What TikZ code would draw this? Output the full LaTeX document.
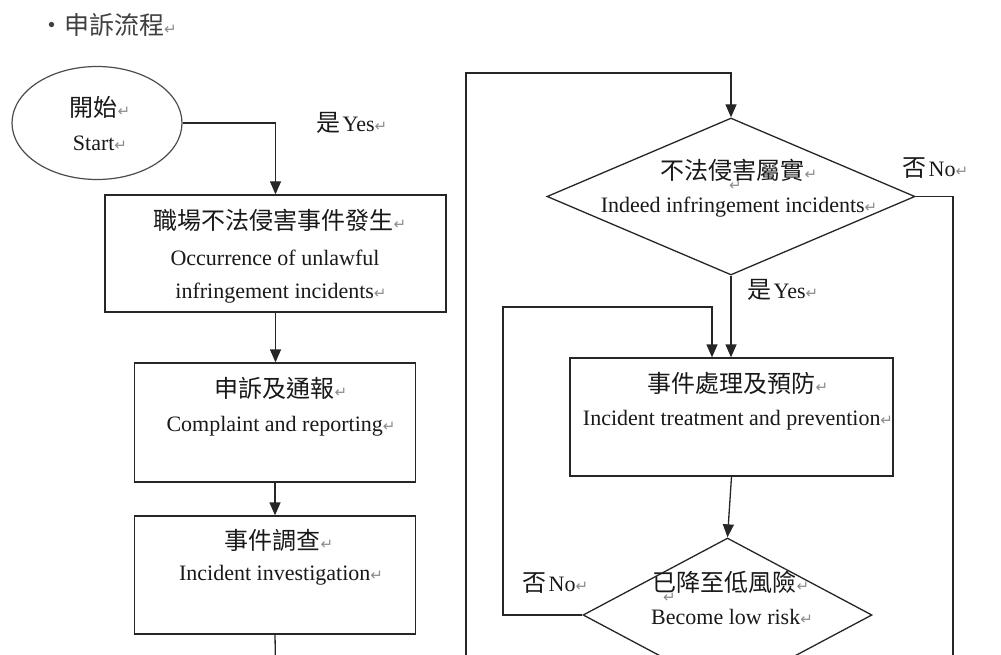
\documentclass[tikz,border=0pt]{standalone}
\usepackage{fontspec}
\setmainfont{Liberation Serif}
\newfontfamily\cjk{Noto Sans CJK TC}
\newfontfamily\symf{DejaVu Sans}
\usetikzlibrary{arrows.meta,shapes.geometric,calc}
\newcommand\pmk{{\symf\fontsize{15}{15}\selectfont\color{black!45}↵}}
\newcommand\zhf{\cjk\fontsize{24}{24}\selectfont}
\newcommand\enf{\fontsize{22}{22}\selectfont}
\tikzset{
  boxn/.style={draw=black!85, rectangle, inner sep=0pt, line width=1.3pt},
  dian/.style={draw=black!85, diamond, inner sep=0pt, line width=1.3pt},
  elln/.style={draw=black!70, ellipse, inner sep=0pt, line width=1.2pt},
  txt/.style={inner sep=0pt, text=black!90},
  lone/.style={inner sep=0pt, text height=5pt, text depth=0pt, text width=8pt},
  arr/.style={draw=black!85, line width=1.3pt, -{Triangle[length=13pt,width=11pt]}},
  lin/.style={draw=black!85, line width=1.3pt}
}
\begin{document}
\begin{tikzpicture}[x=1pt,y=-1pt]
\useasboundingbox (0,0) rectangle (1001,655);
\clip (0,0) rectangle (1001,655);
\fill[white] (0,0) rectangle (1001,655);
% title
\node[txt, anchor=west, text=black!75] (title) at (39,25) {\cjk\fontsize{25}{25}\selectfont ・申訴流程\pmk};
% shapes
\node[elln, minimum width=170pt, minimum height=113pt] (st) at (97,123) {};
\node[boxn, minimum width=341pt, minimum height=117pt] (b1) at (275.5,253.5) {};
\node[boxn, minimum width=281pt, minimum height=119pt] (b2) at (275,422.5) {};
\node[boxn, minimum width=281pt, minimum height=118pt] (b3) at (275,575) {};
\node[dian, minimum width=368pt, minimum height=157pt] (d1) at (731,196.5) {};
\node[boxn, minimum width=323pt, minimum height=118pt] (b4) at (731.5,417) {};
\node[dian, minimum width=289pt, minimum height=154pt] (d2) at (727.5,615) {};
% texts
\node[txt] (st1) at (100,107) {\zhf 開始\pmk};
\node[txt] (st2) at (100,143) {\enf Start\pmk};
\node[txt, anchor=west] (yes1) at (316,123) {{\zhf 是} \enf Yes\pmk};
\node[txt] (b1a) at (280,220) {\zhf 職場不法侵害事件發生\pmk};
\node[txt] (b1b) at (275,258) {\enf Occurrence of unlawful};
\node[txt] (b1c) at (281,293) {\enf infringement incidents\pmk};
\node[txt] (b2a) at (281,388) {\zhf 申訴及通報\pmk};
\node[txt] (b2b) at (281,426) {\enf Complaint and reporting\pmk};
\node[txt] (b3a) at (279,540) {\zhf 事件調查\pmk};
\node[txt] (b3b) at (281,575) {\enf Incident investigation\pmk};
\node[txt] (d1a) at (739,170) {\zhf 不法侵害屬實\pmk};
\node[lone] (d1m) at (733,188) {\pmk};
\node[txt] (d1b) at (739,207) {\enf Indeed infringement incidents\pmk};
\node[txt, anchor=west] (no1) at (902,168) {{\zhf 否} \enf No\pmk};
\node[txt, anchor=west] (yes2) at (747,290) {{\zhf 是} \enf Yes\pmk};
\node[txt] (b4a) at (738,383) {\zhf 事件處理及預防\pmk};
\node[txt] (b4b) at (738,420) {\enf Incident treatment and prevention\pmk};
\node[txt] (d2a) at (731,582) {\zhf 已降至低風險\pmk};
\node[lone] (d2m) at (667,600) {\pmk};
\node[txt] (d2b) at (732,617) {\enf Become low risk\pmk};
\node[txt, anchor=west] (no2) at (522,583) {{\zhf 否} \enf No\pmk};
% coordinates
\coordinate (e1) at (275.5,665);
\coordinate (lb) at (466,665);
\coordinate (lt) at (466,73);
\coordinate (rb) at (953,665);
\coordinate (lp) at (503,307);
% connectors
\draw[arr] (st.east) -| (b1.north);
\draw[arr] (b1.south) -- (b1.south |- b2.north);
\draw[arr] (b2.south) -- (b3.north);
\draw[lin] (b3.south) -- (e1);
\draw[arr] (lb) -- (lt) -| (d1.north);
\draw[lin] (d1.east) -| (rb);
\draw[arr] (d1.south) -- (d1.south |- b4.north);
\draw[arr] (b4.south) -- (d2.north);
\draw[arr] (d2.west) -| (lp) -| ([xshift=-19.5pt]b4.north);
\end{tikzpicture}
\end{document}
